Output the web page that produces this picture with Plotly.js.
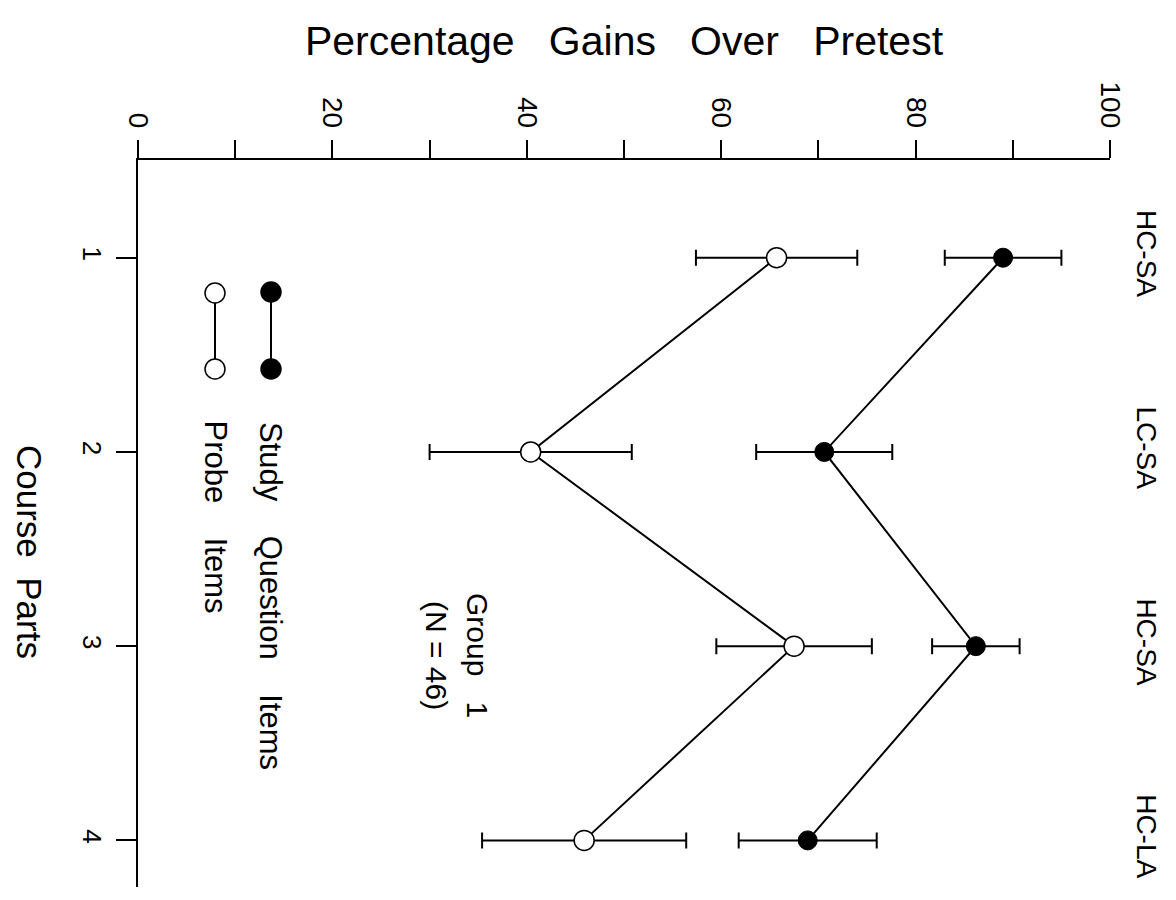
<!DOCTYPE html>
<html>
<head>
<meta charset="utf-8">
<script src="https://cdn.plot.ly/plotly-3.0.1.min.js"></script>
<style>
  html, body { margin: 0; padding: 0; background: #ffffff; }
  #chart { width: 1176px; height: 900px; }
</style>
</head>
<body>
<div id="chart"></div>
<script>
// ---- data ----
const parts = [1, 2, 3, 4];
const partLabels = ['1', '2', '3', '4'];
const conditions = ['HC-SA', 'LC-SA', 'HC-SA', 'HC-LA'];
const studyMean = [89.0, 70.6, 86.2, 68.9];
const studyErr  = [6.0, 7.0, 4.5, 7.1];
const probeMean = [65.7, 40.4, 67.5, 45.9];
const probeErr  = [8.3, 10.4, 8.0, 10.5];
const valueTicks = [0, 10, 20, 30, 40, 50, 60, 70, 80, 90, 100];
const valueTickText = ['0', '', '20', '', '40', '', '60', '', '80', '', '100'];

const SP = '\u00a0\u00a0\u00a0';
const SP4 = '\u00a0\u00a0\u00a0\u00a0';
const FONT = 'Liberation Sans, Arial, sans-serif';

// plot area in pixels
const L = 138, R = 1110, T = 160, B = 887;
const W = 1176, H = 900;
function px(x) { return (x - L) / (R - L); }
function py(y) { return (B - y) / (B - T); }

const studyTrace = {
  x: studyMean, y: parts, type: 'scatter', mode: 'lines+markers',
  name: 'Study Question Items',
  line: { color: '#000', width: 2 },
  marker: { size: 19, color: '#000', line: { color: '#000', width: 1 } },
  error_x: { type: 'data', array: studyErr, visible: true, color: '#000', thickness: 2, width: 8 },
  showlegend: false, hoverinfo: 'x+y'
};
const probeTrace = {
  x: probeMean, y: parts, type: 'scatter', mode: 'lines+markers',
  name: 'Probe Items',
  line: { color: '#000', width: 2 },
  marker: { size: 20, color: '#fff', line: { color: '#000', width: 1.5 } },
  error_x: { type: 'data', array: probeErr, visible: true, color: '#000', thickness: 2, width: 8 },
  showlegend: false, hoverinfo: 'x+y'
};
// invisible trace to carry the right-hand condition labels axis
const condTrace = {
  x: [null, null, null, null], y: parts, yaxis: 'y2', type: 'scatter', mode: 'markers',
  showlegend: false, hoverinfo: 'skip'
};

// legend symbols (layout, in pixels)
const legend = [
  { x: 271, y0: 292, y1: 369, fill: '#000', text: 'Study' + SP4 + 'Question' + SP4 + 'Items', ty: 420 },
  { x: 215, y0: 293, y1: 369, fill: '#fff', text: 'Probe' + SP4 + 'Items', ty: 418 }
];
const shapes = [];
const annotations = [];
legend.forEach(function (e) {
  shapes.push({ type: 'line', xref: 'paper', yref: 'paper', x0: px(e.x), x1: px(e.x), y0: py(e.y0), y1: py(e.y1),
    line: { color: '#000', width: 2 } });
  [e.y0, e.y1].forEach(function (cy) {
    shapes.push({ type: 'circle', xref: 'paper', yref: 'paper',
      x0: px(e.x - 10), x1: px(e.x + 10), y0: py(cy + 10), y1: py(cy - 10),
      fillcolor: e.fill, line: { color: '#000', width: 1.5 } });
  });
  annotations.push({ xref: 'paper', yref: 'paper', x: px(e.x), y: py(e.ty), xanchor: 'center', yanchor: 'top',
    text: e.text, textangle: 90, showarrow: false, font: { family: FONT, size: 31, color: '#000' } });
});
annotations.push({ xref: 'paper', yref: 'paper', x: px(478), y: py(655), xanchor: 'center', yanchor: 'middle',
  text: 'Group' + SP + '1', textangle: 90, showarrow: false, font: { family: FONT, size: 30, color: '#000' } });
annotations.push({ xref: 'paper', yref: 'paper', x: px(437), y: py(655), xanchor: 'center', yanchor: 'middle',
  text: '(N = 46)', textangle: 90, showarrow: false, font: { family: FONT, size: 30, color: '#000' } });
annotations.push({ xref: 'paper', yref: 'paper', x: px(30), y: py(552), xanchor: 'center', yanchor: 'middle',
  text: 'Course' + '\u00a0\u00a0' + 'Parts', textangle: 90, showarrow: false, font: { family: FONT, size: 35, color: '#000' } });

const layout = {
  width: W, height: H,
  margin: { l: L, r: W - R, t: T, b: H - B, pad: 0 },
  paper_bgcolor: '#fff', plot_bgcolor: '#fff',
  font: { family: FONT, color: '#000' },
  title: { text: 'Percentage' + SP + 'Gains' + SP + 'Over' + SP + 'Pretest',
    font: { family: FONT, size: 41, color: '#000' },
    xref: 'paper', x: 0.5, xanchor: 'center', yref: 'container', y: 1 - 41 / H, yanchor: 'middle' },
  xaxis: {
    range: [0, 100], side: 'top', showgrid: false, zeroline: false,
    showline: true, linecolor: '#000', linewidth: 2,
    ticks: 'outside', ticklen: 18, tickwidth: 2, tickcolor: '#000',
    tickmode: 'array', tickvals: valueTicks, ticktext: valueTickText,
    tickangle: 90, tickfont: { family: FONT, size: 28, color: '#000' }, ticklabelstandoff: 2
  },
  yaxis: {
    range: [4.24, 0.497], showgrid: false, zeroline: false,
    showline: true, linecolor: '#000', linewidth: 2,
    ticks: 'outside', ticklen: 20, tickwidth: 2, tickcolor: '#000',
    tickmode: 'array', tickvals: parts, ticktext: partLabels,
    tickangle: 90, tickfont: { family: FONT, size: 26, color: '#000' }, ticklabelstandoff: 2
  },
  yaxis2: {
    overlaying: 'y', side: 'right', range: [4.24, 0.497], showgrid: false, zeroline: false,
    showline: false, ticks: '', tickmode: 'array', tickvals: parts, ticktext: conditions,
    tickangle: 90, tickfont: { family: FONT, size: 28, color: '#000' }, ticklabelstandoff: 20
  },
  shapes: shapes,
  annotations: annotations,
  showlegend: false
};

Plotly.newPlot('chart', [condTrace, probeTrace, studyTrace], layout, { displayModeBar: false, staticPlot: true });
</script>
</body>
</html>
